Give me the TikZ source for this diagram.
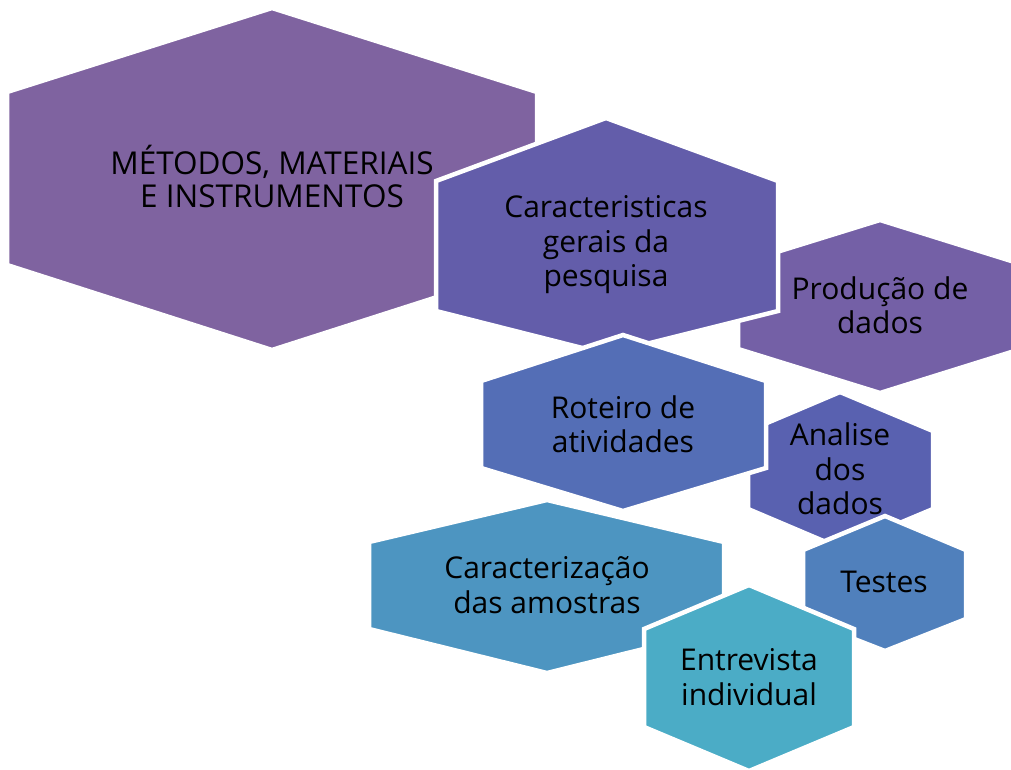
\documentclass[tikz,border=0pt]{standalone}
\usepackage{fontspec}
\setmainfont{Open Sans}
\definecolor{cA}{HTML}{7F63A0}
\definecolor{cB}{HTML}{635DAA}
\definecolor{cC}{HTML}{7460A6}
\definecolor{cD}{HTML}{546EB6}
\definecolor{cE}{HTML}{5961B0}
\definecolor{cF}{HTML}{5080BC}
\definecolor{cG}{HTML}{4D95C1}
\definecolor{cH}{HTML}{4BACC6}
% #1 colour, #2 cx, #3 top, #4 upper shoulder, #5 lower shoulder, #6 bottom, #7 left x, #8 right x
\newcommand\hexshape[8]{%
  \filldraw[hexline, fill=#1] (#2,#3) -- (#8,#4) -- (#8,#5) -- (#2,#6) -- (#7,#5) -- (#7,#4) -- cycle;}
\begin{document}
\begin{tikzpicture}[x=1pt,y=-1pt,
  hexline/.style={draw=white,line width=4.5pt,line join=miter},
  lbl/.style={align=center,font=\fontsize{30}{34.5}\selectfont,text=black,inner sep=0pt},
  ttl/.style={align=center,font=\fontsize{31.5}{33}\selectfont,text=black,inner sep=0pt}]
\useasboundingbox (0,0) rectangle (1011,769);
\clip (0,0) rectangle (1011,769);
\hexshape{cA}{272}{8}{92}{265}{350}{7}{537}
\node[ttl] (metodos) at (272,176) {MÉTODOS, MATERIAIS\\E INSTRUMENTOS};
\hexshape{cC}{880}{220}{264}{349}{393}{738}{1021}
\node[lbl] (producao) at (880,305) {Produção de\\dados};
\hexshape{cB}{606}{118}{181}{311}{354}{436}{778}
\node[lbl] (caracteristicas) at (606,245) {Caracteristicas\\gerais da\\pesquisa};
\hexshape{cE}{840}{392}{431}{509}{548}{748}{933}
\node[lbl] (analise) at (840,469) {Analise\\dos\\dados};
\hexshape{cD}{623}{335}{381}{468}{511}{481}{766}
\node[lbl] (roteiro) at (623,424) {Roteiro de\\atividades};
\hexshape{cG}{547}{500}{542}{629}{673}{369}{724}
\node[lbl] (caracterizacao) at (547,585) {Caracterização\\das amostras};
\hexshape{cF}{885}{516}{550}{619}{651}{803}{966}
\node[lbl] (testes) at (884,582) {Testes};
\hexshape{cH}{749}{585}{629}{727}{771}{644}{854}
\node[lbl] (entrevista) at (749,677) {Entrevista\\individual};
\end{tikzpicture}
\end{document}
